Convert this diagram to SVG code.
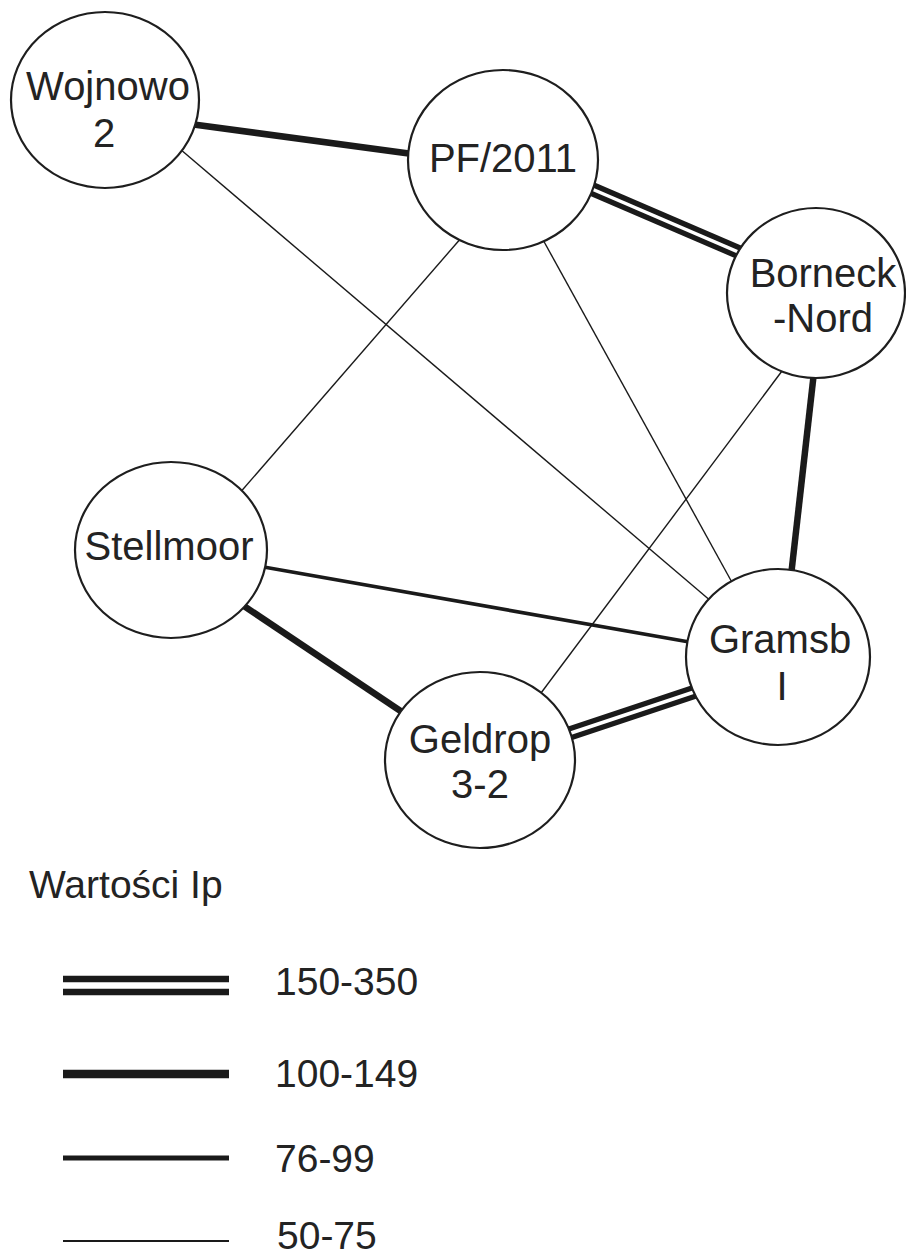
<svg xmlns="http://www.w3.org/2000/svg" width="906" height="1258" viewBox="0 0 906 1258">
<style>
.bg{fill:#ffffff}
.node{fill:#ffffff;stroke:#1e1e1e;stroke-width:2.2}
.lbl{font-family:"Liberation Sans",Arial,sans-serif;font-size:40px;fill:#232323;text-anchor:middle}
.leg{font-family:"Liberation Sans",Arial,sans-serif;font-size:39px;fill:#232323}
.e{stroke:#1a1a1a;fill:none;stroke-linecap:butt}
.thin{stroke-width:1.4}
.med{stroke-width:3.6}
.thick{stroke-width:6.5}
.dblout{stroke-width:14}
.dblin{stroke:#ffffff;stroke-width:3.5}
</style>
<rect class="bg" x="0" y="0" width="906" height="1258"/>
<g id="connectors">
  <line class="e thick" x1="190" y1="124" x2="420" y2="155"/>
  <line class="e thin" x1="180" y1="149" x2="712" y2="602"/>
  <line class="e dblout" x1="585" y1="186" x2="750" y2="257"/>
  <line class="e dblin" x1="585" y1="186" x2="750" y2="257"/>
  <line class="e thin" x1="462" y1="237" x2="238" y2="495"/>
  <line class="e thin" x1="542" y1="238" x2="734" y2="586"/>
  <line class="e thin" x1="782" y1="371" x2="538" y2="697"/>
  <line class="e thick" x1="814" y1="372" x2="791" y2="576"/>
  <line class="e med" x1="258" y1="566" x2="695" y2="643"/>
  <line class="e thick" x1="238" y1="602" x2="408" y2="716"/>
  <line class="e dblout" x1="562" y1="736" x2="700" y2="690"/>
  <line class="e dblin" x1="562" y1="736" x2="700" y2="690"/>
</g>
<g id="node-wojnowo">
  <ellipse class="node" cx="105" cy="100" rx="94" ry="88"/>
  <text class="lbl" x="108" y="100">Wojnowo</text>
  <text class="lbl" x="104" y="147">2</text>
</g>
<g id="node-pf2011">
  <ellipse class="node" cx="503" cy="160" rx="95" ry="90"/>
  <text class="lbl" x="503" y="172">PF/2011</text>
</g>
<g id="node-borneck">
  <ellipse class="node" cx="816" cy="293" rx="89" ry="85"/>
  <text class="lbl" x="823" y="287">Borneck</text>
  <text class="lbl" x="823" y="332">-Nord</text>
</g>
<g id="node-stellmoor">
  <ellipse class="node" cx="171" cy="550" rx="96" ry="88"/>
  <text class="lbl" x="169" y="560">Stellmoor</text>
</g>
<g id="node-gramsb">
  <ellipse class="node" cx="778" cy="657" rx="92" ry="88"/>
  <text class="lbl" x="780" y="653">Gramsb</text>
  <text class="lbl" x="782" y="700">I</text>
</g>
<g id="node-geldrop">
  <ellipse class="node" cx="480" cy="760" rx="95" ry="88"/>
  <text class="lbl" x="480" y="753">Geldrop</text>
  <text class="lbl" x="480" y="798">3-2</text>
</g>
<g id="legend">
  <text class="leg" x="29" y="898">Wartości Ip</text>
  <line class="e" stroke-width="6.5" x1="63" y1="979" x2="229" y2="979"/>
  <line class="e" stroke-width="6.5" x1="63" y1="992" x2="229" y2="992"/>
  <text class="leg" x="275" y="995">150-350</text>
  <line class="e" stroke-width="8.5" x1="63" y1="1074" x2="229" y2="1074"/>
  <text class="leg" x="275" y="1087">100-149</text>
  <line class="e" stroke-width="5" x1="63" y1="1158" x2="229" y2="1158"/>
  <text class="leg" x="275" y="1172">76-99</text>
  <line class="e" stroke-width="2.2" x1="63" y1="1241" x2="229" y2="1241"/>
  <text class="leg" x="277" y="1249">50-75</text>
</g>
</svg>
